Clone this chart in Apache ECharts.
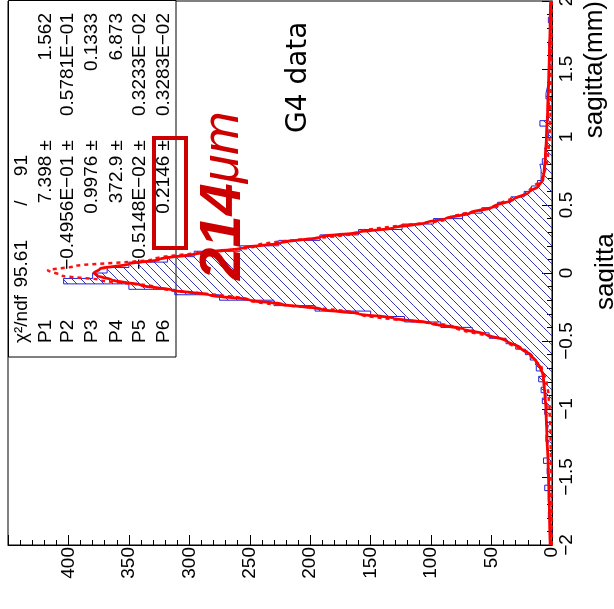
<!DOCTYPE html>
<html><head><meta charset="utf-8">
<script src="https://cdn.jsdelivr.net/npm/echarts@6/dist/echarts.min.js"></script>
<style>html,body{margin:0;padding:0;background:#fff}#c{width:614px;height:609px}</style>
</head><body><div id="c"></div>
<script>
// ---------------- data ----------------
const binLow = -2;
const binWidth = 0.04;
// histogram counts, 100 bins from -2 to 2 (sagitta, mm)
const counts = [
  1,2,0,2,1,3,2,1,3,2,
  6,3,2,4,3,7,3,4,3,5,
  4,3,5,4,6,4,8,5,9,6,
  11,8,13,14,18,22,30,38,52,66,
  92,122,150,196,230,275,312,350,404,380,
  368,350,318,296,258,226,192,160,124,98,
  74,58,45,34,23,17,12,9,9,10,
  8,5,6,4,5,3,4,10,3,4,
  2,3,5,4,3,2,3,2,3,1,
  2,3,2,1,2,1,3,1,2,1
];
// fitted curve (solid)
const fitS = [-2.0,-1.8,-1.6,-1.4,-1.2,-1.0,-0.9,-0.8,-0.745,-0.7,-0.65,-0.613,-0.55,-0.502,-0.45,-0.413,-0.37,-0.332,-0.3,-0.266,-0.23,-0.199,-0.16,-0.125,-0.09,-0.05,-0.02,0.0,0.03,0.066,0.1,0.148,0.185,0.22,0.266,0.3,0.332,0.37,0.4,0.44,0.487,0.54,0.594,0.64,0.686,0.75,0.85,1.0,1.2,1.4,1.6,1.8,2.0];
const fitC = [1.5,2.0,2.6,3.2,4.2,5.0,5.8,6.8,7.5,9.5,13,16.5,26,37,55,73,100,131,160,191,223,250,284,315,340,364,376,379,374,350,325,291,255,225,191,160,131,105,88,68,49,32,19,11,7.5,6.5,5.5,4.6,3.6,2.8,2.2,1.6,1.1];
// second (dashed) curve
const dashS = [-2.0,-1.5,-1.2,-1.0,-0.9,-0.8,-0.7,-0.6,-0.5,-0.4,-0.3,-0.2,-0.1,-0.05,-0.02,0.02,0.05,0.1,0.2,0.3,0.4,0.5,0.6,0.7,0.8,0.9,1.0,1.2,1.5,2.0];
const dashC = [0.3,0.6,1.2,2.0,2.8,4.5,8.5,18,38,80,160,250,330,375,405,417,395,330,245,160,86,44,19,8,4.2,2.8,2.0,1.2,0.6,0.3];
const countTicks = [0,50,100,150,200,250,300,350,400];
const sagittaTicks = [-2,-1.5,-1,-0.5,0,0.5,1,1.5,2];
const statNames = ['P1','P2','P3','P4','P5','P6'];
const statValues = ['7.398','−0.4956E−01','0.9976','372.9','−0.5148E−02','0.2146'];
const statErrors = ['1.562','0.5781E−01','0.1333','6.873','0.3233E−02','0.3283E−02'];
const chi2Label = 'χ²/ndf';
const chi2Value = '95.61';
const ndfValue = '91';
const noteText = ['214','μm'];
const dataLabel = 'G4 data';
const axisTitle1 = 'sagitta(mm)';
const axisTitle2 = 'sagitta';

// ---------------- chart ----------------
const FONT = '"Liberation Sans", Arial, Helvetica, sans-serif';
const pc = document.createElement('canvas');
pc.width = 9; pc.height = 9;
const g = pc.getContext('2d');
g.strokeStyle = '#3232b4'; g.lineWidth = 1;
g.beginPath();
g.moveTo(-1,-1); g.lineTo(10,10);
g.moveTo(-1,8); g.lineTo(1,10);
g.moveTo(8,-1); g.lineTo(10,1);
g.stroke();
const hatch = {image: pc, repeat: 'repeat'};

const binData = counts.map((c,k) => [binLow + k*binWidth, binLow + (k+1)*binWidth, c]);
const outline = [[0, binLow]];
counts.forEach((c,k) => {
  outline.push([c, binLow + k*binWidth]);
  outline.push([c, binLow + (k+1)*binWidth]);
});
outline.push([0, binLow + counts.length*binWidth]);

function vtext(str, x, y, align, font, fill, z) {
  return {type:'text', x:x, y:y, rotation:Math.PI/2, z:z||1, silent:true,
    style:{text:str, font:font, fill:fill||'#000', align:align, verticalAlign:'middle',
           textAlign:align, textVerticalAlign:'middle'}};
}
const SF = '19px ' + FONT;
const cols = [22, 46, 68, 92, 117, 140, 164];
const graphics = [];
graphics.push({type:'rect', z:0, silent:true, shape:{x:8.5, y:0.5, width:167.5, height:356.5},
  style:{fill:'#fff', stroke:'#000', lineWidth:1}});
graphics.push(vtext(chi2Label, cols[0], 343, 'left', SF));
graphics.push(vtext(chi2Value, cols[0], 240, 'right', SF));
graphics.push(vtext('/', cols[0], 203, 'center', SF));
graphics.push(vtext(ndfValue, cols[0], 155, 'right', SF));
statNames.forEach((n,i) => {
  graphics.push(vtext(n, cols[i+1], 343, 'left', SF));
  graphics.push(vtext(statValues[i] + ' ±', cols[i+1], 140, 'right', SF));
  graphics.push(vtext(statErrors[i], cols[i+1], 13, 'right', SF));
});
graphics.push(vtext(dataLabel, 299, 133, 'left', '28px "DejaVu Sans", sans-serif'));
graphics.push(vtext(axisTitle1, 595, 1, 'right', '26px ' + FONT));
graphics.push(vtext(axisTitle2, 606, 310, 'left', '26px ' + FONT));
graphics.push({type:'rect', z:100, silent:true, shape:{x:154, y:138, width:32, height:110},
  style:{fill:'none', stroke:'#cc0000', lineWidth:4}});
graphics.push({type:'text', x:224, y:280, rotation:Math.PI/2, z:100, silent:true,
  style:{text:'{a|' + noteText[0] + '}{b|' + noteText[1] + '}', align:'left', verticalAlign:'middle',
    textAlign:'left', textVerticalAlign:'middle',
    rich:{a:{font:'italic bold 58px ' + FONT, fill:'#cc0000'},
          b:{font:'italic 52px ' + FONT, fill:'#cc0000'}}}});

const chart = echarts.init(document.getElementById('c'), null, {renderer:'canvas'});
chart.setOption({
  animation:false,
  backgroundColor:'#fff',
  grid:{left:8, right:62, top:1, bottom:64, show:true, borderColor:'#000', borderWidth:1,
        containLabel:false, outerBoundsMode:'none'},
  xAxis:{type:'value', min:0, max:450, interval:50, inverse:true, position:'bottom',
    axisLine:{show:true, onZero:false, lineStyle:{color:'#000', width:1}},
    axisTick:{show:true, inside:true, length:10, lineStyle:{color:'#000'}},
    minorTick:{show:true, splitNumber:5, length:5, lineStyle:{color:'#000'}},
    splitLine:{show:false}, minorSplitLine:{show:false},
    axisLabel:{rotate:90, margin:2, color:'#000', fontSize:19, fontFamily:FONT,
      showMaxLabel:false,
      formatter:v => countTicks.indexOf(v) >= 0 ? String(v) : ''}},
  yAxis:{type:'value', min:-2, max:2, interval:0.5, position:'right',
    axisLine:{show:true, onZero:false, lineStyle:{color:'#000', width:1}},
    axisTick:{show:true, inside:true, length:10, lineStyle:{color:'#000'}},
    minorTick:{show:true, splitNumber:5, length:5, lineStyle:{color:'#000'}},
    splitLine:{show:false}, minorSplitLine:{show:false},
    axisLabel:{rotate:90, margin:5, color:'#000', fontSize:19, fontFamily:FONT,
      showMinLabel:true, showMaxLabel:true,
      formatter:v => sagittaTicks.indexOf(v) >= 0 ? (v < 0 ? '−' : '') + Math.abs(v) : ''}},
  graphic:{elements:graphics},
  series:[
    {type:'custom', data:binData, clip:true, silent:true, z:2,
      encode:{x:2, y:[0,1]},
      renderItem:function(params, api){
        const lo = api.value(0), hi = api.value(1), c = api.value(2);
        const p1 = api.coord([c, hi]);
        const p0 = api.coord([0, lo]);
        return {type:'rect', shape:{x:p1[0], y:p1[1], width:p0[0]-p1[0], height:p0[1]-p1[1]},
                style:{fill:hatch, stroke:null}};
      }},
    {type:'line', data:outline, showSymbol:false, silent:true, z:3, clip:true,
      lineStyle:{color:'#2323d8', width:1}},
    {type:'line', data:dashS.map((s,i)=>[dashC[i], s]), showSymbol:false, silent:true, z:4,
      smooth:0.3, smoothMonotone:'y', clip:true,
      lineStyle:{color:'#ff1010', width:2.5, type:[4,4]}},
    {type:'line', data:fitS.map((s,i)=>[fitC[i], s]), showSymbol:false, silent:true, z:5,
      smooth:0.3, smoothMonotone:'y', clip:true,
      lineStyle:{color:'#ff0000', width:2.8}}
  ]
});
</script></body></html>
